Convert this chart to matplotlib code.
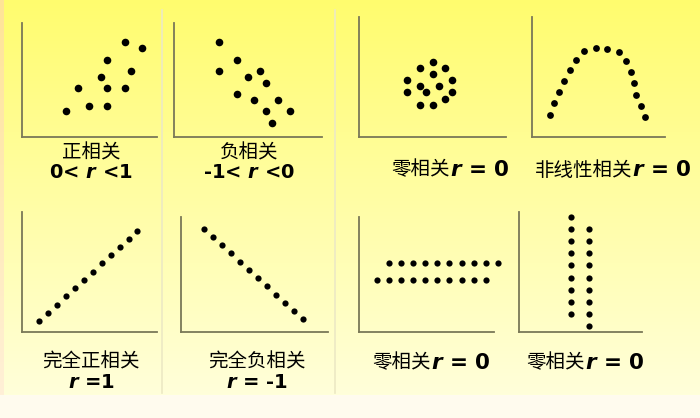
import matplotlib.pyplot as plt
import numpy as np

plt.rcParams['font.family'] = ['Noto Sans CJK SC', 'DejaVu Sans']
plt.rcParams['mathtext.fontset'] = 'dejavusans'

W, H = 700, 418

# scatter data (x right, y up, same units in every panel)
pos_x = [44, 55.7, 67.3, 79.3, 85, 85, 85, 102.7, 108.7, 102.7, 120.3]
pos_y = [26, 48.7, 31.3, 60, 77.3, 48.7, 31.3, 94.7, 66, 48.7, 88.7]

neg_x = [45, 45, 62.7, 74.3, 86, 92, 62.7, 80.3, 103.7, 92, 115.7, 98]
neg_y = [94.7, 66, 77.3, 60, 66, 54.3, 42.7, 37.3, 37.3, 26, 26, 14.3]

zero_x = [73.7, 61, 86.3, 73.7, 48, 93, 61, 80, 48, 67.3, 93, 86.3, 61, 73.7]
zero_y = [75, 68.7, 68.7, 63, 56.7, 56.7, 50.7, 50.7, 44.7, 44.7, 44.7, 38.3, 32.3, 32.3]

curve_x = [18.3, 22.3, 26.7, 32, 37.7, 44, 52, 63.7, 75, 86.7, 94, 99, 101.7, 103.7, 109, 112.7]
curve_y = [22.3, 34, 45.3, 56, 66.7, 77, 85.7, 89.3, 88, 84.7, 75.7, 65, 53.7, 41.7, 30.7, 19.7]

perf_pos_x = [17.3, 26.3, 35.3, 44.3, 53.3, 62, 71, 80, 89, 97.7, 106.7, 115.3]
perf_pos_y = [11.3, 19.3, 27.3, 35.7, 44, 52, 60.3, 68.7, 76.7, 85, 93, 101.3]

perf_neg_x = [23, 32, 41, 49.7, 58.7, 67.7, 76.7, 85.7, 94.7, 103.7, 112.7, 121.7]
perf_neg_y = [103, 95, 86.7, 78.7, 70.3, 62, 53.7, 45.7, 37.3, 29.3, 21.3, 13.3]

horiz_x = [29.7, 41.7, 54, 66, 78.3, 90.3, 102.7, 114.7, 126.7, 139,
           17.7, 29.7, 41.7, 54, 66, 78.3, 90.3, 102.7, 114.7, 126.7]
horiz_y = [69] * 10 + [51.7] * 10

vert_x = [52.3] * 9 + [70] * 9
vert_y = [114.7, 102.7, 90.7, 78.7, 66.7, 54.3, 42.3, 30.3, 18,
          102.7, 90.7, 78.7, 66.7, 54.3, 42.3, 30.3, 18, 6]

# panel boxes in pixels: left, x-axis row, right, top of y-axis
panels = [
    (22, 137, 157, 23, pos_x, pos_y, 30),
    (174, 137, 322, 23, neg_x, neg_y, 30),
    (359, 137, 506, 17, zero_x, zero_y, 30),
    (532, 137, 665, 17, curve_x, curve_y, 24),
    (22, 332, 157, 212, perf_pos_x, perf_pos_y, 20),
    (181, 332, 328, 217, perf_neg_x, perf_neg_y, 20),
    (359, 332, 494, 217, horiz_x, horiz_y, 20),
    (519, 332, 642, 212, vert_x, vert_y, 20),
]

R = r'$\mathbfit{r}$'
# captions: cjk part, latin part, x centre, y, stacked on two lines?
captions = [
    ('正相关', '0< ' + R + ' <1', 91, 153, True),
    ('负相关', '-1< ' + R + ' <0', 249, 153, True),
    ('零相关', R + ' = 0', 450, 170, False),
    ('非线性相关', R + ' = 0', 632, 170, False),
    ('完全正相关', R + ' =1', 91, 362, True),
    ('完全负相关', R + ' = -1', 257, 362, True),
    ('零相关', R + ' = 0', 431, 363, False),
    ('零相关', R + ' = 0', 585, 363, False),
]

fig = plt.figure(figsize=(W / 100, H / 100), dpi=100)

# background gradient
bg = fig.add_axes([0, 0, 1, 1])
top = np.array([255, 252, 110]) / 255
bot = np.array([255, 255, 218]) / 255
t = np.linspace(0, 1, 395)[:, None]
grad = top * (1 - t) + bot * t
img = np.ones((H, W, 3))
img[:395] = grad[:, None, :]
img[395:] = np.array([255, 251, 238]) / 255
edge = (np.array([255, 228, 150]) / 255) * (1 - t) + (np.array([255, 240, 215]) / 255) * t
img[:395, :4] = edge[:, None, :]
bg.imshow(img, extent=(0, W, H, 0), aspect='auto')
bg.set_xlim(0, W)
bg.set_ylim(H, 0)
bg.axis('off')

for xd in (162, 335):
    bg.plot([xd, xd], [10, 393], color='#ece9c4', lw=1.2)

for left, base, right, topp, xs, ys, s in panels:
    w, h = right - left, base - topp
    ax = fig.add_axes([left / W, 1 - base / H, w / W, h / H])
    ax.set_xlim(0, w)
    ax.set_ylim(0, h)
    ax.patch.set_visible(False)
    for side in ('top', 'right'):
        ax.spines[side].set_visible(False)
    for side in ('left', 'bottom'):
        ax.spines[side].set_color('#7a7858')
        ax.spines[side].set_linewidth(1.3)
    ax.set_xticks([])
    ax.set_yticks([])
    ax.scatter(xs, ys, s=s, color='black', lw=0, clip_on=False)

for cjk, latin, cx, cy, two in captions:
    if two:
        bg.text(cx, cy, cjk, ha='center', va='center', fontsize=14)
        bg.text(cx, cy + 20, latin, ha='center', va='center', fontsize=14,
                fontweight='bold', family=['DejaVu Sans'])
    else:
        bg.text(cx, cy, cjk, ha='right', va='center', fontsize=14)
        bg.text(cx, cy, latin, ha='left', va='center', fontsize=15.5,
                fontweight='bold', family=['DejaVu Sans'])

fig.savefig('out.png', dpi=100)
